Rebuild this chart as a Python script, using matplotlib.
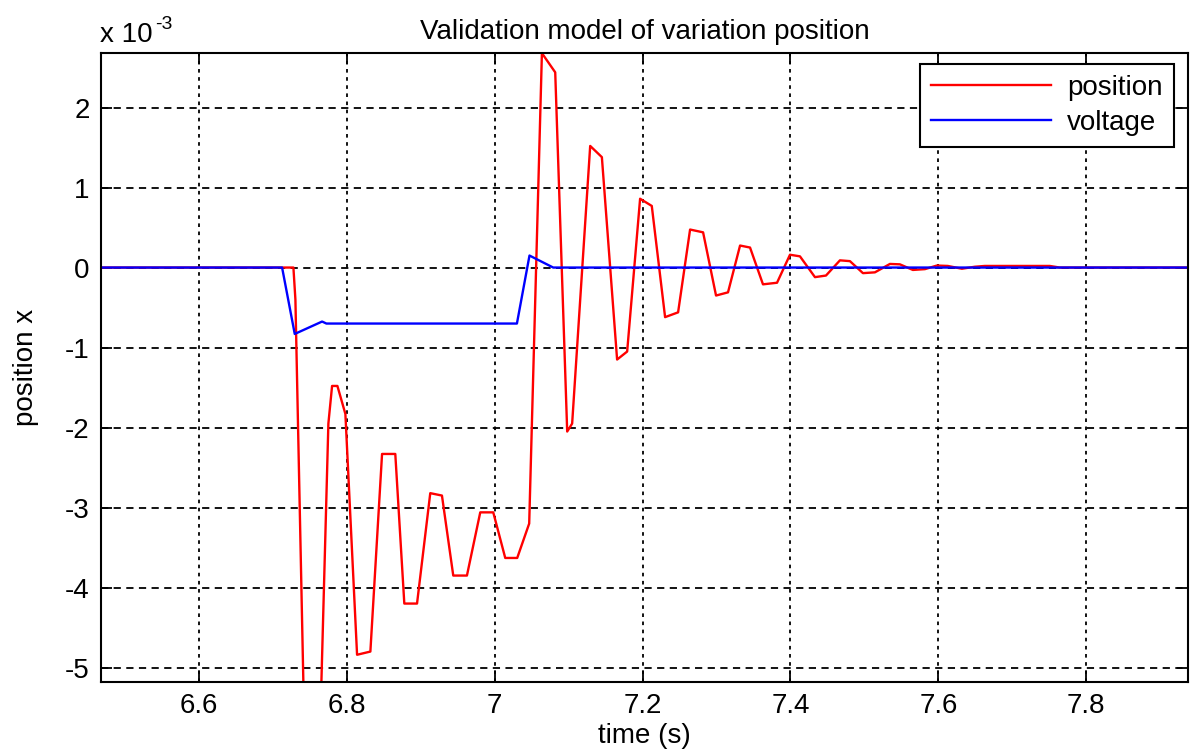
import matplotlib.pyplot as plt
import numpy as np

plt.rcParams['font.family'] = ['Liberation Sans', 'DejaVu Sans']
plt.rcParams['axes.unicode_minus'] = False

# position x (units of 1e-3)
t_pos = [6.467, 6.7277, 6.7304, 6.7412, 6.7534, 6.7655, 6.7750, 6.7800, 6.7872, 6.7980,
         6.8138, 6.8318, 6.8476, 6.8655, 6.8777, 6.8949, 6.9128, 6.9286, 6.9439, 6.9624,
         6.9804, 6.9980, 7.0142, 7.0304, 7.0466, 7.0638, 7.0818, 7.0980, 7.1047, 7.1291,
         7.1449, 7.1655, 7.1791, 7.1966, 7.2124, 7.2304, 7.2480, 7.2642, 7.2818, 7.2993,
         7.3155, 7.3318, 7.3453, 7.3628, 7.3818, 7.3993, 7.4128, 7.4331, 7.4480, 7.4669,
         7.4804, 7.4980, 7.5142, 7.5345, 7.5480, 7.5655, 7.5818, 7.5980, 7.6128, 7.6318,
         7.6493, 7.6628, 7.7507, 7.7642, 7.938]
x_pos = [0, 0, -0.4, -5.2, -9.5, -5.2, -1.95, -1.48, -1.48, -1.83,
         -4.84, -4.80, -2.33, -2.33, -4.20, -4.20, -2.82, -2.85, -3.85, -3.85,
         -3.06, -3.06, -3.63, -3.63, -3.20, 2.68, 2.44, -2.05, -1.95, 1.52,
         1.38, -1.15, -1.05, 0.86, 0.77, -0.62, -0.56, 0.475, 0.44, -0.35,
         -0.31, 0.275, 0.25, -0.21, -0.19, 0.16, 0.14, -0.12, -0.10, 0.09,
         0.08, -0.07, -0.06, 0.045, 0.04, -0.03, -0.02, 0.025, 0.02, -0.015,
         0.01, 0.02, 0.02, 0, 0]

# voltage (same scale)
t_volt = [6.467, 6.7124, 6.7295, 6.7665, 6.7723, 7.0300, 7.0470, 7.0791, 7.938]
v_volt = [0, 0, -0.83, -0.675, -0.70, -0.70, 0.15, 0, 0]

xticks = [6.6, 6.8, 7.0, 7.2, 7.4, 7.6, 7.8]
xtick_labels = ['6.6', '6.8', '7', '7.2', '7.4', '7.6', '7.8']
yticks = [-5, -4, -3, -2, -1, 0, 1, 2]

fs = 20

fig = plt.figure(figsize=(11.94, 7.49), dpi=100)
ax = fig.add_axes([0.0843, 0.0895, 0.9109, 0.8401])

ax.plot(t_pos, x_pos, color='red', lw=1.7, label='position')
ax.plot(t_volt, v_volt, color='blue', lw=1.7, label='voltage')

ax.set_xlim(6.467, 7.938)
ax.set_ylim(-5.18, 2.685)
ax.set_xticks(xticks)
ax.set_xticklabels(xtick_labels)
ax.set_yticks(yticks)

ax.tick_params(direction='in', length=8, width=1.3, labelsize=fs,
               top=True, right=True, pad=8)
for s in ax.spines.values():
    s.set_linewidth(1.5)

ax.xaxis.grid(True, color='black', linestyle=(0, (2, 2.5)), lw=1.3)
ax.yaxis.grid(True, color='black', linestyle=(0, (4, 3)), lw=1.3)

ax.set_title('Validation model of variation position', fontsize=fs, pad=10)
ax.set_xlabel('time (s)', fontsize=fs)
ax.set_ylabel('position x', fontsize=fs)
ax.xaxis.set_label_coords(0.5, -0.065)
ax.yaxis.set_label_coords(-0.057, 0.5)

# exponent marker like the MATLAB axis
base = fig.text(100 / 1194, 1 - 42 / 749, 'x 10', fontsize=fs, ha='left', va='baseline')
fig.canvas.draw()
bb = base.get_window_extent()
fig.text((bb.x1 + 2) / 1194, 1 - 29 / 749, '-3', fontsize=14, ha='left', va='baseline')

leg = ax.legend(loc='upper right', fontsize=fs, fancybox=False, framealpha=1,
                edgecolor='black', handlelength=4.3, borderpad=0.4,
                labelspacing=0.3, handletextpad=0.6, borderaxespad=0,
                bbox_to_anchor=(0.9868, 0.982))
leg.get_frame().set_linewidth(1.5)

plt.savefig('out.png', dpi=100)
